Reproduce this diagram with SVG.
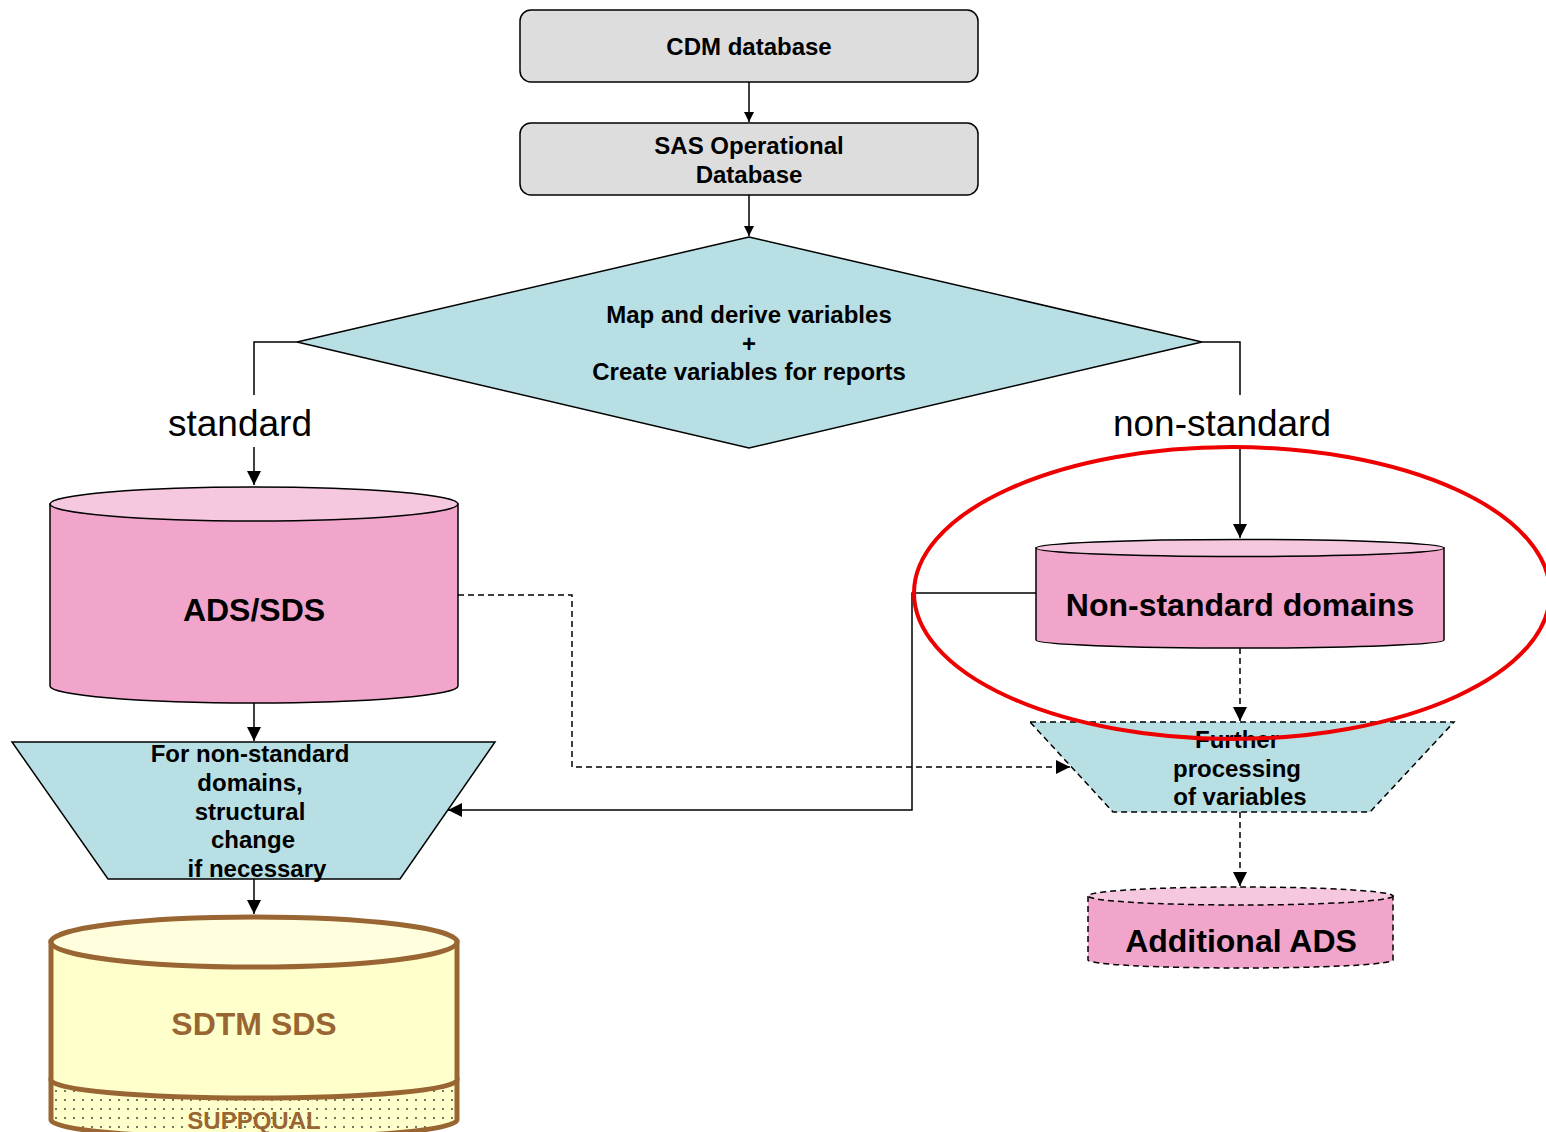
<svg xmlns="http://www.w3.org/2000/svg" width="1546" height="1132" viewBox="0 0 1546 1132">
<style>
  .t { font-family: "Liberation Sans", Arial, sans-serif; font-weight: bold; font-size: 24px; fill: #000; text-anchor: middle; }
  .big { font-family: "Liberation Sans", Arial, sans-serif; font-weight: bold; font-size: 32px; fill: #000; text-anchor: middle; }
  .lbl { font-family: "Liberation Sans", Arial, sans-serif; font-size: 37px; fill: #000; text-anchor: middle; }
  .box { fill: #dddddd; stroke: #000; stroke-width: 1.5; }
  .teal { fill: #b8dfe3; stroke: #000; stroke-width: 1.5; }
  .pink { fill: #f1a5cb; stroke: #000; stroke-width: 1.5; }
  .pinktop { fill: #f6c8e0; stroke: #000; stroke-width: 1.5; }
  .dash { stroke-dasharray: 6 4; }
  .ln { fill: none; stroke: #000; stroke-width: 1.5; }
  .brown { font-family: "Liberation Sans", Arial, sans-serif; font-weight: bold; fill: #996633; text-anchor: middle; }
</style>
<defs>
  <marker id="ah" viewBox="0 0 10 10" refX="10" refY="5" markerWidth="10" markerHeight="10" markerUnits="userSpaceOnUse" orient="auto">
    <path d="M0,0 L10,5 L0,10 Z" fill="#000"/>
  </marker>
  <marker id="ahL" viewBox="0 0 10 10" refX="10" refY="5" markerWidth="14" markerHeight="14" markerUnits="userSpaceOnUse" orient="auto">
    <path d="M0,0 L10,5 L0,10 Z" fill="#000"/>
  </marker>
  <pattern id="dots" width="9" height="9" patternUnits="userSpaceOnUse">
    <rect width="9" height="9" fill="#ffffcc"/>
    <circle cx="2" cy="2" r="0.9" fill="#333"/>
  </pattern>
</defs>

<g id="connectors">
  <line class="ln" x1="749" y1="82" x2="749" y2="122" marker-end="url(#ah)"/>
  <line class="ln" x1="749" y1="195" x2="749" y2="236" marker-end="url(#ah)"/>
  <polyline class="ln" points="297,342 254,342 254,395"/>
  <line class="ln" x1="254" y1="447" x2="254" y2="485" marker-end="url(#ahL)"/>
  <polyline class="ln" points="1202,342 1240,342 1240,395"/>
  <line class="ln" x1="1240" y1="447" x2="1240" y2="538" marker-end="url(#ahL)"/>
  <line class="ln" x1="254" y1="703" x2="254" y2="741" marker-end="url(#ahL)"/>
  <line class="ln" x1="254" y1="879" x2="254" y2="914" marker-end="url(#ahL)"/>
  <polyline class="ln dash" points="458,595 572,595 572,767 1070,767" marker-end="url(#ahL)"/>
  <polyline class="ln" points="1036,593 912,593 912,810 448,810" marker-end="url(#ahL)"/>
  <line class="ln dash" x1="1240" y1="648" x2="1240" y2="721" marker-end="url(#ahL)"/>
  <line class="ln dash" x1="1240" y1="812" x2="1240" y2="886" marker-end="url(#ahL)"/>
</g>

<g id="cdm">
  <rect class="box" x="520" y="10" width="458" height="72" rx="11"/>
  <text class="t" x="749" y="55">CDM database</text>
</g>

<g id="sas">
  <rect class="box" x="520" y="123" width="458" height="72" rx="11"/>
  <text class="t" x="749" y="154">SAS Operational</text>
  <text class="t" x="749" y="183">Database</text>
</g>

<g id="map">
  <polygon class="teal" points="749,237 1202,342 749,448 297,342"/>
  <text class="t" x="749" y="323">Map and derive variables</text>
  <text class="t" x="749" y="352">+</text>
  <text class="t" x="749" y="380">Create variables for reports</text>
</g>

<g id="lbl-standard">
  <text class="lbl" x="240" y="436">standard</text>
</g>
<g id="lbl-nonstandard">
  <text class="lbl" x="1222" y="436">non-standard</text>
</g>

<g id="ads-sds">
  <path class="pink" d="M50,504 L50,686 A204,17 0 0 0 458,686 L458,504 Z"/>
  <ellipse class="pinktop" cx="254" cy="504" rx="204" ry="17"/>
  <text class="big" x="254" y="621">ADS/SDS</text>
</g>

<g id="structural">
  <polygon class="teal" points="12,742 495,742 400,879 108,879"/>
  <text class="t" x="250" y="762">For non-standard</text>
  <text class="t" x="250" y="791">domains,</text>
  <text class="t" x="250" y="820">structural</text>
  <text class="t" x="253" y="848">change</text>
  <text class="t" x="257" y="877">if necessary</text>
</g>

<g id="sdtm">
  <path d="M51,1080 L51,1120 A203,18 0 0 0 457,1120 L457,1080 Z" fill="url(#dots)" stroke="#996633" stroke-width="5"/>
  <path d="M51,942 L51,1080 A203,18 0 0 0 457,1080 L457,942 Z" fill="#ffffcc" stroke="#996633" stroke-width="5"/>
  <ellipse cx="254" cy="942" rx="203" ry="25" fill="#ffffdd" stroke="#996633" stroke-width="5"/>
  <text class="brown" x="254" y="1035" font-size="32">SDTM SDS</text>
  <text class="brown" x="254" y="1129" font-size="24">SUPPQUAL</text>
</g>

<g id="nonstd">
  <path class="pink" d="M1036,548 L1036,640 A204,8 0 0 0 1444,640 L1444,548 Z"/>
  <ellipse class="pinktop" cx="1240" cy="548" rx="204" ry="8.5"/>
  <text class="big" x="1240" y="616">Non-standard domains</text>
</g>

<g id="further">
  <polygon class="teal dash" points="1030,722 1454,722 1370,812 1113,812"/>
  <text class="t" x="1237" y="748">Further</text>
  <text class="t" x="1237" y="777">processing</text>
  <text class="t" x="1240" y="805">of variables</text>
</g>

<g id="additional">
  <path class="pink dash" d="M1088,896 L1088,960 A152.5,8 0 0 0 1393,960 L1393,896 Z"/>
  <ellipse class="pinktop dash" cx="1240.5" cy="896" rx="152.5" ry="9"/>
  <text class="big" x="1241" y="952">Additional ADS</text>
</g>

<g id="highlight">
  <ellipse cx="1232" cy="593" rx="318" ry="146" fill="none" stroke="#ee0000" stroke-width="4"/>
</g>
</svg>
